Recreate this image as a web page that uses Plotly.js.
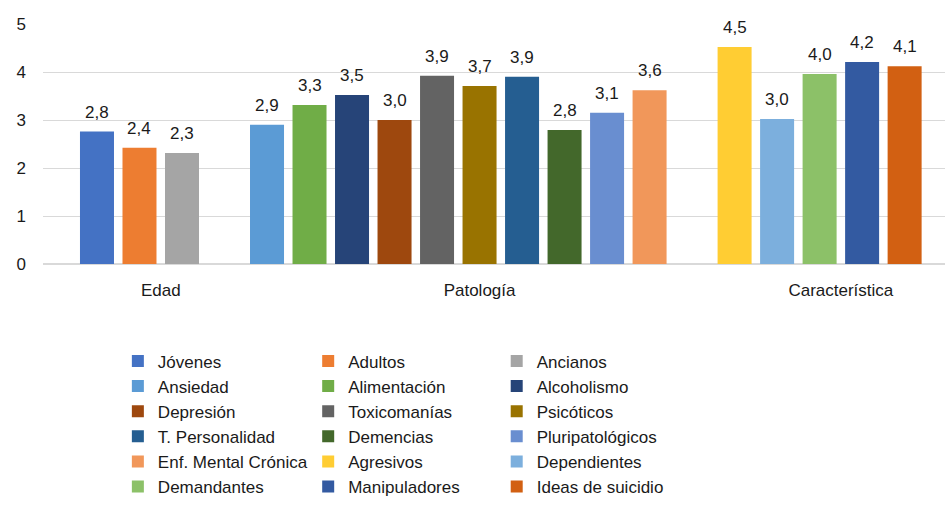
<!DOCTYPE html>
<html><head><meta charset="utf-8">
<script src="https://cdn.plot.ly/plotly-3.0.1.min.js"></script>
<style>html,body{margin:0;padding:0;background:#fff}</style>
</head><body><div id="chart" style="width:947px;height:505px"></div>
<script>
const groupNames = ['Edad', 'Patología', 'Característica'];
const groupSizes = [3, 10, 5];
const seriesNames = ['Jóvenes', 'Adultos', 'Ancianos', 'Ansiedad', 'Alimentación', 'Alcoholismo',
  'Depresión', 'Toxicomanías', 'Psicóticos', 'T. Personalidad', 'Demencias', 'Pluripatológicos',
  'Enf. Mental Crónica', 'Agresivos', 'Dependientes', 'Demandantes', 'Manipuladores', 'Ideas de suicidio'];
const seriesValues = [2.76, 2.42, 2.31, 2.90, 3.31, 3.52, 3.00, 3.92, 3.71, 3.90, 2.79, 3.15, 3.62,
  4.52, 3.02, 3.96, 4.21, 4.12];
const seriesColors = ['#4472C4', '#ED7D31', '#A5A5A5', '#5B9BD5', '#70AD47', '#264478', '#9E480E',
  '#636363', '#997300', '#255E91', '#43682B', '#698ED0', '#F1975A', '#FFCD33', '#7CAFDD', '#8CC168',
  '#335AA1', '#D26012'];

const FONT = 'Liberation Sans, Arial, sans-serif';
const TXT = '#1a1a1a';

// slot layout: one empty slot between groups
const positions = [];
const tickPos = [];
let p = 0;
groupSizes.forEach((n) => {
  tickPos.push(p + n / 2);
  for (let k = 0; k < n; k++) positions.push(p + k);
  p += n + 1;
});

const legendIds = ['legend', 'legend2', 'legend3'];
const traces = seriesNames.map((name, i) => ({
  type: 'bar',
  name: name,
  x: [positions[i]],
  y: [seriesValues[i]],
  width: 0.8,
  marker: { color: seriesColors[i] },
  legend: legendIds[i % 3],
  hoverinfo: 'name+y'
}));

const annotations = seriesValues.map((v, i) => ({
  x: positions[i], y: v, xref: 'x', yref: 'y',
  text: v.toFixed(1).replace('.', ','),
  showarrow: false, yanchor: 'bottom', yshift: 8,
  font: { family: FONT, size: 17, color: TXT }
}));

const legBase = {
  orientation: 'v', xanchor: 'left', yanchor: 'top', y: -0.331,
  font: { family: FONT, size: 17, color: TXT },
  bgcolor: 'rgba(0,0,0,0)', borderwidth: 0, traceorder: 'normal'
};

const layout = {
  width: 947, height: 505,
  margin: { l: 43, r: 2, t: 24, b: 241, autoexpand: false },
  paper_bgcolor: '#fff', plot_bgcolor: '#fff',
  font: { family: FONT, size: 17, color: TXT },
  barmode: 'overlay',
  showlegend: true,
  xaxis: {
    type: 'linear', range: [-1.27, 19.95],
    tickvals: tickPos, ticktext: groupNames,
    showgrid: false, zeroline: false, showline: false, ticks: '',
    ticklabelstandoff: 14,
    tickfont: { family: FONT, size: 17, color: TXT },
    fixedrange: true
  },
  yaxis: {
    range: [0, 5], dtick: 1, tick0: 0,
    showgrid: true, gridcolor: '#d9d9d9', gridwidth: 1,
    zeroline: true, zerolinecolor: '#d9d9d9', zerolinewidth: 1.5,
    showline: false, ticks: '', ticklabelstandoff: 16,
    tickfont: { family: FONT, size: 17, color: TXT },
    fixedrange: true
  },
  legend: Object.assign({}, legBase, { x: 0.083 }),
  legend2: Object.assign({}, legBase, { x: 0.294 }),
  legend3: Object.assign({}, legBase, { x: 0.503 }),
  annotations: annotations
};

Plotly.newPlot('chart', traces, layout, { displayModeBar: false, staticPlot: true });
</script>
</body></html>
